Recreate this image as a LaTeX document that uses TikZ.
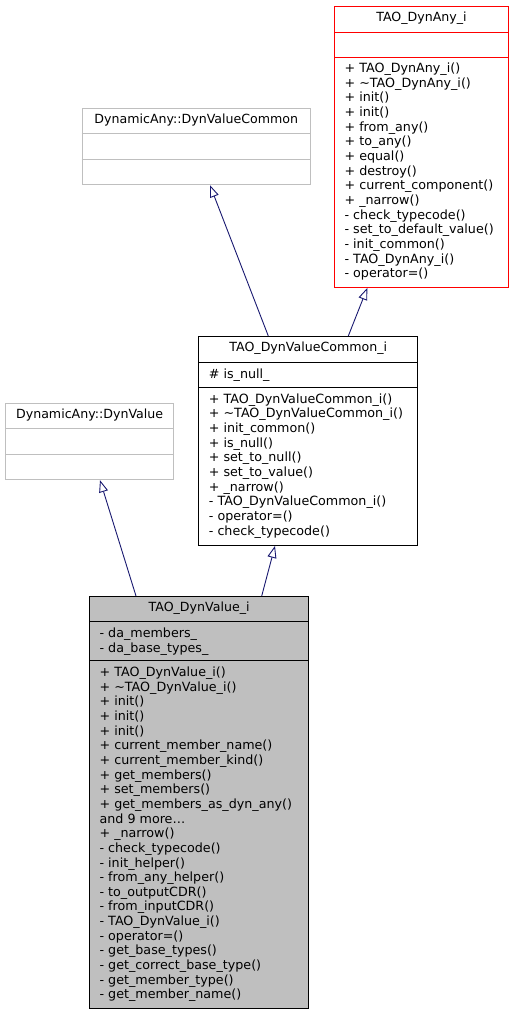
\documentclass[tikz,border=0pt]{standalone}
\usepackage{fontspec}
\setmainfont{DejaVu Sans}
\usetikzlibrary{arrows.meta, math}

\definecolor{edgeblue}{HTML}{191970}
\definecolor{boxgray}{HTML}{BFBFBF}

\begin{document}
\begin{tikzpicture}[x=1pt, y=-1pt,
    classbox/.style={draw, line width=0.9pt, inner sep=0pt, anchor=north west},
    member/.style={anchor=base west, inner sep=0pt, font=\fontsize{12.7pt}{14.6pt}\selectfont},
    classname/.style={anchor=base, inner sep=0pt, font=\fontsize{12.6pt}{14.6pt}\selectfont},
    inherit/.style={draw=edgeblue, line width=0.9pt, -{Triangle[fill=white, length=12pt, width=9pt]}}]

        % line spacing of the member lists
        \tikzmath{\gap = 14.64;}

        % fix the page to the size of the original
        \useasboundingbox (0,0) rectangle (513,1016);

        % the base class drawn in red
        \node[classbox, draw=red, minimum width=174pt, minimum height=281pt] (dynany) at (334,6) {};
        \node[classname] (dynany-name) at ([yshift=-15.5pt]dynany.north) {TAO\_DynAny\_i};
        \draw[red, line width=0.9pt] ([yshift=-26pt]dynany.north west) -- ([yshift=-26pt]dynany.north east);
        \draw[red, line width=0.9pt] ([yshift=-51pt]dynany.north west) -- ([yshift=-51pt]dynany.north east);
        \foreach \m [count=\i from 0] in {%
            + TAO\_DynAny\_i(), + \textasciitilde TAO\_DynAny\_i(), + init(), + init(),
            + from\_any(), + to\_any(), + equal(), + destroy(), + current\_component(),
            + \_narrow(), - check\_typecode(), - set\_to\_default\_value(),
            - init\_common(), - TAO\_DynAny\_i(), - operator=()}
            \node[member] (dynany-m\i) at ([xshift=10.4pt, yshift={-(66.7+\i*\gap)*1pt}]dynany.north west) {\m};

        % the two interface classes, drawn in gray
        \node[classbox, draw=boxgray, minimum width=228.3pt, minimum height=76pt] (dvc) at (81.7,108.3) {};
        \node[classname] (dvc-name) at ([yshift=-15.5pt]dvc.north) {DynamicAny::DynValueCommon};
        \draw[boxgray, line width=0.9pt] ([yshift=-25pt]dvc.north west) -- ([yshift=-25pt]dvc.north east);
        \draw[boxgray, line width=0.9pt] ([yshift=-51pt]dvc.north west) -- ([yshift=-51pt]dvc.north east);

        \node[classbox, draw=boxgray, minimum width=168.3pt, minimum height=76pt] (dv) at (5,403.3) {};
        \node[classname] (dv-name) at ([yshift=-15.5pt]dv.north) {DynamicAny::DynValue};
        \draw[boxgray, line width=0.9pt] ([yshift=-25pt]dv.north west) -- ([yshift=-25pt]dv.north east);
        \draw[boxgray, line width=0.9pt] ([yshift=-50.7pt]dv.north west) -- ([yshift=-50.7pt]dv.north east);

        % the common implementation class
        \node[classbox, minimum width=219pt, minimum height=209pt] (dvci) at (198.3,336) {};
        \node[classname] (dvci-name) at ([yshift=-15.5pt]dvci.north) {TAO\_DynValueCommon\_i};
        \draw[line width=0.9pt] ([yshift=-26.3pt]dvci.north west) -- ([yshift=-26.3pt]dvci.north east);
        \draw[line width=0.9pt] ([yshift=-51.3pt]dvci.north west) -- ([yshift=-51.3pt]dvci.north east);
        \node[member] (dvci-a0) at ([xshift=10.4pt, yshift=-42pt]dvci.north west) {\# is\_null\_};
        \foreach \m [count=\i from 0] in {%
            + TAO\_DynValueCommon\_i(), + \textasciitilde TAO\_DynValueCommon\_i(),
            + init\_common(), + is\_null(), + set\_to\_null(), + set\_to\_value(),
            + \_narrow(), - TAO\_DynValueCommon\_i(), - operator=(), - check\_typecode()}
            \node[member] (dvci-m\i) at ([xshift=10.4pt, yshift={-(67.3+\i*\gap)*1pt}]dvci.north west) {\m};

        % the class of this page, filled gray
        \node[classbox, fill=boxgray, minimum width=219.3pt, minimum height=412.3pt] (dvi) at (89,596) {};
        \node[classname] (dvi-name) at ([yshift=-15.5pt]dvi.north) {TAO\_DynValue\_i};
        \draw[line width=0.9pt] ([yshift=-25.7pt]dvi.north west) -- ([yshift=-25.7pt]dvi.north east);
        \draw[line width=0.9pt] ([yshift=-64.7pt]dvi.north west) -- ([yshift=-64.7pt]dvi.north east);
        \foreach \m [count=\i from 0] in {- da\_members\_, - da\_base\_types\_}
            \node[member] (dvi-a\i) at ([xshift=10.4pt, yshift={-(41.7+\i*\gap)*1pt}]dvi.north west) {\m};
        \foreach \m [count=\i from 0] in {%
            + TAO\_DynValue\_i(), + \textasciitilde TAO\_DynValue\_i(), + init(), + init(), + init(),
            + current\_member\_name(), + current\_member\_kind(), + get\_members(),
            + set\_members(), + get\_members\_as\_dyn\_any(), and 9 more\ldots, + \_narrow(),
            - check\_typecode(), - init\_helper(), - from\_any\_helper(), - to\_outputCDR(),
            - from\_inputCDR(), - TAO\_DynValue\_i(), - operator=(), - get\_base\_types(),
            - get\_correct\_base\_type(), - get\_member\_type(), - get\_member\_name()}
            \node[member] (dvi-m\i) at ([xshift=10.4pt, yshift={-(80.7+\i*\gap)*1pt}]dvi.north west) {\m};

        % inheritance arrows
        \draw[inherit] ([xshift=70pt]dvci.north west) -- ([xshift=128.3pt]dvc.south west);
        \draw[inherit] ([xshift=150pt]dvci.north west) -- ([xshift=33.3pt]dynany.south west);
        \draw[inherit] ([xshift=47pt]dvi.north west) -- ([xshift=95pt]dv.south west);
        \draw[inherit] ([xshift=172.7pt]dvi.north west) -- ([xshift=76.7pt]dvci.south west);
\end{tikzpicture}
\end{document}
